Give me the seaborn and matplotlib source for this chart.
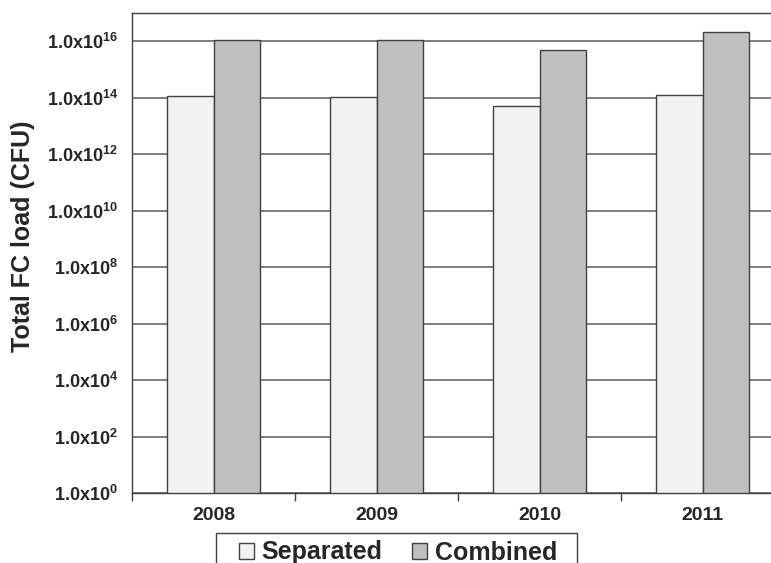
import matplotlib
matplotlib.use("Agg")
import matplotlib.pyplot as plt
import seaborn as sns
import pandas as pd
from matplotlib.patches import Patch, Rectangle

# Annual total fecal coliform load per sewer type
years = ["2008", "2009", "2010", "2011"]
separated = [1.15e14, 1.05e14, 5.0e13, 1.2e14]
combined = [1.15e16, 1.15e16, 4.8e15, 2.1e16]
series_names = ["Separated", "Combined"]
ytick_exponents = [0, 2, 4, 6, 8, 10, 12, 14, 16]

sep_color = "#F2F2F2"
comb_color = "#C0C0C0"
edge_color = "#404040"

sns.set_style("white")
plt.rcParams["font.family"] = ["Liberation Sans", "DejaVu Sans"]
plt.rcParams["font.weight"] = "bold"
plt.rcParams["mathtext.fontset"] = "custom"
plt.rcParams["mathtext.rm"] = "Liberation Sans:bold"
plt.rcParams["mathtext.it"] = "Liberation Sans:bold"
plt.rcParams["mathtext.bf"] = "Liberation Sans:bold"

df = pd.DataFrame({
    "year": years * 2,
    "load": separated + combined,
    "series": [series_names[0]] * len(years) + [series_names[1]] * len(years),
})

W, H = 771, 563
fig = plt.figure(figsize=(W / 100, H / 100), dpi=100)
ax = fig.add_axes([132 / W, 70 / H, 652 / W, 480 / H])

sns.barplot(
    data=df, x="year", y="load", hue="series", hue_order=series_names,
    palette=[sep_color, comb_color], saturation=1, width=0.565,
    edgecolor=edge_color, linewidth=1, errorbar=None, legend=False, ax=ax,
)

ax.set_yscale("log")
ax.set_ylim(1, 1e17)
ax.set_xlim(-0.5, 3.5)

ax.set_yticks([10.0 ** e for e in ytick_exponents])
ax.set_yticklabels([r"$\mathrm{1.0x10}^{\mathrm{%d}}$" % e for e in ytick_exponents])
ax.yaxis.set_minor_locator(matplotlib.ticker.NullLocator())
ax.tick_params(axis="y", which="major", length=0, pad=10, labelsize=13)

ax.set_xticks([-0.5, 0.5, 1.5, 2.5, 3.5])
ax.set_xticklabels([])
ax.set_xticks(range(len(years)), minor=True)
ax.set_xticklabels(years, minor=True, fontweight="bold")
ax.tick_params(axis="x", which="major", length=6, width=1, direction="out",
               color=edge_color, bottom=True)
ax.tick_params(axis="x", which="minor", length=0, pad=10, labelsize=14)

ax.yaxis.grid(True, color="#5a5a5a", linewidth=1.1)
ax.xaxis.grid(False)
ax.set_axisbelow(True)

for side in ["left", "bottom", "top"]:
    ax.spines[side].set_visible(True)
    ax.spines[side].set_color(edge_color)
    ax.spines[side].set_linewidth(1)
ax.spines["right"].set_visible(False)

ax.set_xlabel("")
ax.set_ylabel("Total FC load (CFU)", fontsize=18, fontweight="bold")
ax.yaxis.set_label_coords(-0.149, 0.534)

# Legend box running off the lower edge of the figure
fig.patches.append(Rectangle(
    (216 / W, -10 / H), (577 - 216) / W, (40) / H,
    transform=fig.transFigure, facecolor="white", edgecolor=edge_color,
    linewidth=1, zorder=1,
))

handles = [
    Patch(facecolor=sep_color, edgecolor=edge_color, linewidth=1),
    Patch(facecolor=comb_color, edgecolor=edge_color, linewidth=1),
]
leg = fig.legend(
    handles, series_names, loc="upper center",
    bbox_to_anchor=(398 / W, 25 / H), ncol=2, frameon=False,
    fontsize=18, handlelength=0.6, handleheight=0.6, handletextpad=0.3,
    columnspacing=1.2, borderpad=0.1, borderaxespad=0,
)
leg.set_zorder(2)
for t in leg.get_texts():
    t.set_fontweight("bold")

fig.savefig("out.png", dpi=100)
